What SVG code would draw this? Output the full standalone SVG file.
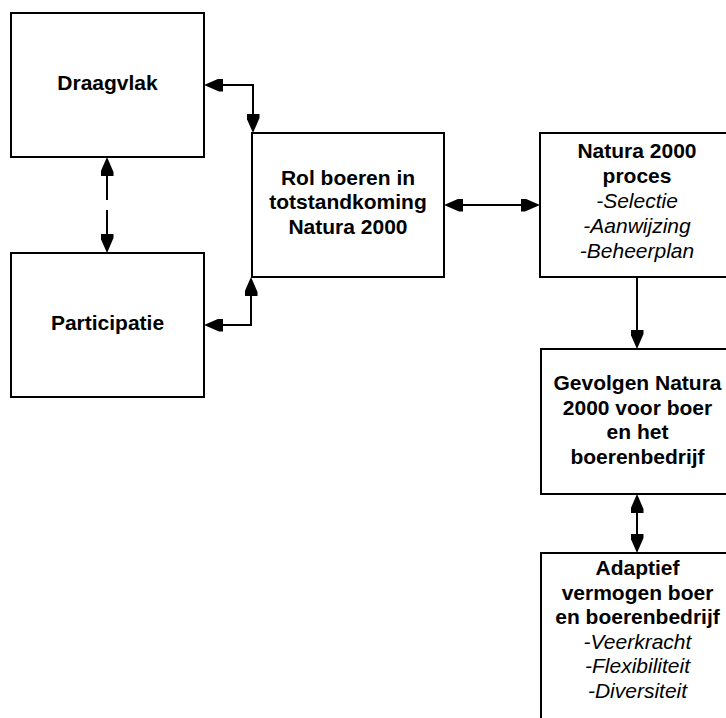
<svg xmlns="http://www.w3.org/2000/svg" width="726" height="718" viewBox="0 0 726 718">
  <style>
    .box { fill: #ffffff; stroke: #000000; stroke-width: 2; }
    .b { font-family: "Liberation Sans", Arial, Helvetica, sans-serif; font-weight: bold; font-size: 21px; fill: #000000; text-anchor: middle; }
    .i { font-family: "Liberation Sans", Arial, Helvetica, sans-serif; font-style: italic; font-size: 21px; fill: #000000; text-anchor: middle; }
    .conn { fill: none; stroke: #000000; stroke-width: 2; }
    .dash { stroke-dasharray: 39 10; }
  </style>
  <defs>
    <marker id="arrow" markerUnits="userSpaceOnUse" markerWidth="19" markerHeight="13" refX="15" refY="6.5" orient="auto-start-reverse" viewBox="0 0 19 13">
      <path d="M0,0 L4,0 L19,6.5 L4,13 L0,13 Z" fill="#000000"/>
    </marker>
  </defs>
  <rect x="0" y="0" width="726" height="718" fill="#ffffff"/>

  <g id="connectors">
    <path class="conn" d="M208,85 L253,85 L253,129" marker-start="url(#arrow)" marker-end="url(#arrow)"/>
    <path class="conn" d="M208,325 L251,325 L251,281" marker-start="url(#arrow)" marker-end="url(#arrow)"/>
    <path class="conn dash" d="M107,161 L107,249" marker-start="url(#arrow)" marker-end="url(#arrow)"/>
    <path class="conn" d="M448,205 L536,205" marker-start="url(#arrow)" marker-end="url(#arrow)"/>
    <path class="conn" d="M637,277 L637,345" marker-end="url(#arrow)"/>
    <path class="conn" d="M637,498 L637,549" marker-start="url(#arrow)" marker-end="url(#arrow)"/>
  </g>

  <g id="draagvlak">
    <rect class="box" x="11" y="13" width="193" height="144"/>
    <text class="b" x="107.5" y="90">Draagvlak</text>
  </g>

  <g id="participatie">
    <rect class="box" x="11" y="253" width="193" height="144"/>
    <text class="b" x="107.5" y="330">Participatie</text>
  </g>

  <g id="rol">
    <rect class="box" x="252" y="133" width="192" height="144"/>
    <text class="b" x="348" y="184.5">Rol boeren in</text>
    <text class="b" x="348" y="209">totstandkoming</text>
    <text class="b" x="348" y="233.5">Natura 2000</text>
  </g>

  <g id="natura-proces">
    <rect class="box" x="540" y="133" width="193" height="144"/>
    <text class="b" x="637" y="158">Natura 2000</text>
    <text class="b" x="637" y="183">proces</text>
    <text class="i" x="637" y="208">-Selectie</text>
    <text class="i" x="637" y="233">-Aanwijzing</text>
    <text class="i" x="637" y="258">-Beheerplan</text>
  </g>

  <g id="gevolgen">
    <rect class="box" x="541" y="349" width="193" height="145"/>
    <text class="b" x="637.5" y="390">Gevolgen Natura</text>
    <text class="b" x="637.5" y="414.5">2000 voor boer</text>
    <text class="b" x="637.5" y="439">en het</text>
    <text class="b" x="637.5" y="463.5">boerenbedrijf</text>
  </g>

  <g id="adaptief">
    <rect class="box" x="541" y="553" width="193" height="175"/>
    <text class="b" x="637.5" y="575">Adaptief</text>
    <text class="b" x="637.5" y="599.5">vermogen boer</text>
    <text class="b" x="637.5" y="624">en boerenbedrijf</text>
    <text class="i" x="637.5" y="648.5">-Veerkracht</text>
    <text class="i" x="637.5" y="673">-Flexibiliteit</text>
    <text class="i" x="637.5" y="697.5">-Diversiteit</text>
  </g>
</svg>
